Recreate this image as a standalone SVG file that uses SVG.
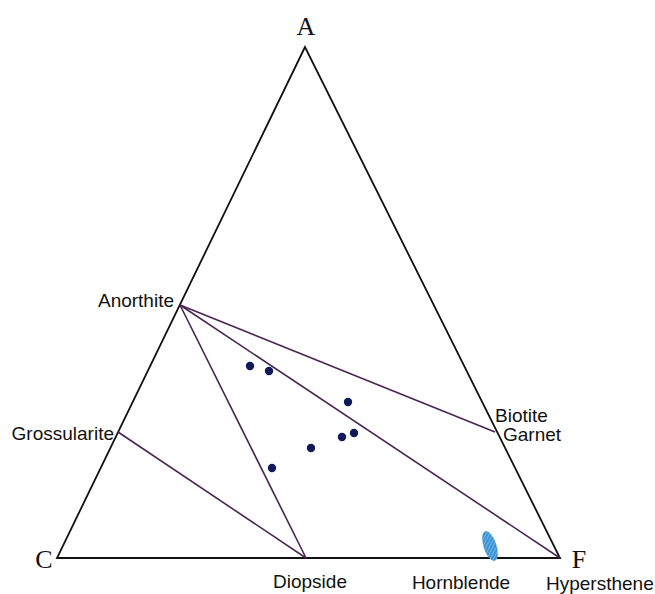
<svg xmlns="http://www.w3.org/2000/svg" width="655" height="594" viewBox="0 0 655 594">
<defs>
<style>
.tri{fill:none;stroke:#111;stroke-width:1.8}
.tie{stroke:#4a2552;stroke-width:1.6;fill:none}
.lbl{font-family:"Liberation Sans",Arial,sans-serif;font-size:19px;fill:#111}
.vx{font-family:"Liberation Serif","Times New Roman",serif;font-size:26px;fill:#111}
.dot{fill:#101a5a}
</style>
<pattern id="hatch" width="3" height="3" patternUnits="userSpaceOnUse" patternTransform="rotate(45)">
<rect width="3" height="3" fill="#3b95d6"/>
<line x1="0" y1="0" x2="0" y2="3" stroke="#a9d3f0" stroke-width="1"/>
</pattern>
</defs>
<rect width="655" height="594" fill="#fff"/>
<g id="triangle">
<polygon class="tri" points="305,47 57,558 560,558"/>
</g>
<g id="connectors">
<line class="tie" x1="180" y1="305" x2="306" y2="558"/>
<line class="tie" x1="180" y1="305" x2="560" y2="558"/>
<line class="tie" x1="180" y1="305" x2="495" y2="432"/>
<line class="tie" x1="118" y1="432" x2="306" y2="558"/>
</g>
<g id="vertex-A"><text class="vx" x="306" y="35" text-anchor="middle">A</text></g>
<g id="vertex-C"><text class="vx" x="44" y="568" text-anchor="middle">C</text></g>
<g id="vertex-F"><text class="vx" x="579" y="568" text-anchor="middle">F</text></g>
<g id="anorthite"><text class="lbl" x="174" y="307" text-anchor="end">Anorthite</text></g>
<g id="grossularite"><text class="lbl" x="114" y="440" text-anchor="end">Grossularite</text></g>
<g id="biotite-garnet">
<text class="lbl" x="495" y="422">Biotite</text>
<text class="lbl" x="503" y="441">Garnet</text>
</g>
<g id="diopside"><text class="lbl" x="310" y="588" text-anchor="middle">Diopside</text></g>
<g id="hornblende">
<ellipse cx="490" cy="546" rx="6.5" ry="15.5" transform="rotate(-18 490 546)" fill="url(#hatch)"/>
<text class="lbl" x="461" y="589" text-anchor="middle">Hornblende</text>
</g>
<g id="hypersthene"><text class="lbl" x="546" y="590">Hypersthene</text></g>
<g id="samples">
<circle class="dot" cx="250" cy="366" r="4.2"/>
<circle class="dot" cx="269" cy="371" r="4.2"/>
<circle class="dot" cx="348" cy="402" r="4.2"/>
<circle class="dot" cx="342" cy="437" r="4.2"/>
<circle class="dot" cx="354" cy="433" r="4.2"/>
<circle class="dot" cx="311" cy="448" r="4.2"/>
<circle class="dot" cx="272" cy="468" r="4.2"/>
</g>
</svg>
